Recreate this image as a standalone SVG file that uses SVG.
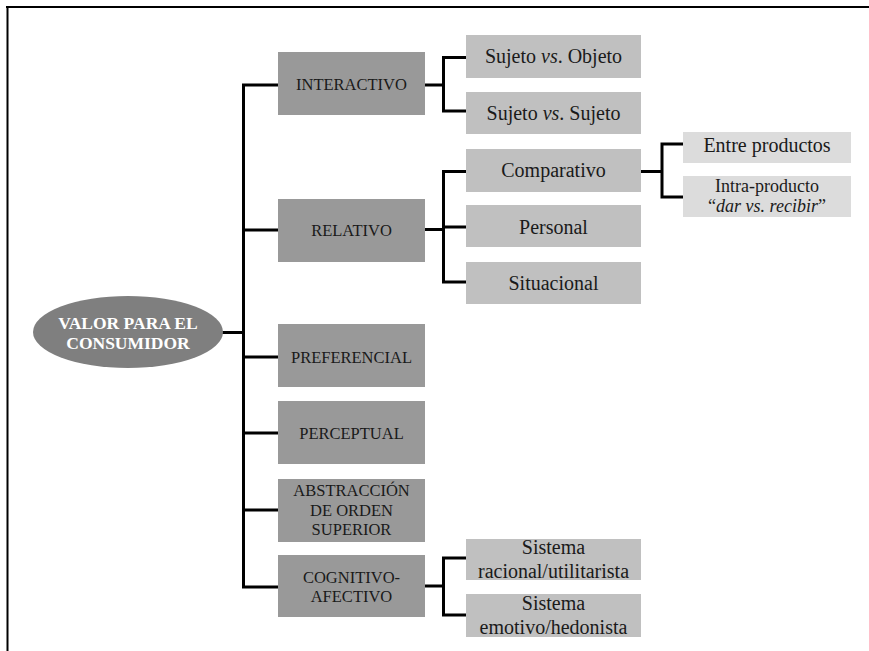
<svg xmlns="http://www.w3.org/2000/svg" width="869" height="651" viewBox="0 0 869 651">
<style>
text{font-family:'Liberation Serif','DejaVu Serif',serif;fill:#1a1a1a;text-anchor:middle}
.d{fill:#999999}
.l{fill:#c0c0c0}
.x{fill:#dcdcdc}
.up{font-size:16.5px}
.lo{font-size:20px}
.sm{font-size:18px}
.e{font-size:17.5px;font-weight:bold;fill:#ffffff}
.c{fill:none;stroke:#000;stroke-width:3}
.f{fill:none;stroke:#000;stroke-width:2}
</style>
<rect x="0" y="0" width="869" height="651" fill="#ffffff"/>
<g id="frame">
<path class="f" d="M6 7H869M7.5 6V651"/>
</g>
<g id="connectors">
<path class="c" d="M243.5 85V588M222 332.5H243.5M242 85H278M242 230H278M242 357H278M242 433H278M242 510H278M242 587H278"/>
<path class="c" d="M425 85H443.5M443.5 57.5V111M442 57.5H466M442 111H466"/>
<path class="c" d="M425 229.5H443.5M443.5 171.5V282M442 171.5H466M442 227H466M442 282H466"/>
<path class="c" d="M641 171.5H662M662 144V197M660.5 144H683M660.5 197H683"/>
<path class="c" d="M425 586H443.5M443.5 558V615M442 558H466M442 615H466"/>
</g>
<g id="root">
<ellipse cx="128" cy="332" rx="95" ry="36" fill="#7f7f7f"/>
<text class="e" x="128" y="328.5">VALOR PARA EL</text>
<text class="e" x="128" y="348.5">CONSUMIDOR</text>
</g>
<g id="interactivo">
<rect class="d" x="278" y="52" width="147" height="63"/>
<text class="up" x="351.5" y="90">INTERACTIVO</text>
</g>
<g id="relativo">
<rect class="d" x="278" y="199" width="147" height="63"/>
<text class="up" x="351.5" y="236">RELATIVO</text>
</g>
<g id="preferencial">
<rect class="d" x="278" y="324" width="147" height="63"/>
<text class="up" x="351.5" y="362.5">PREFERENCIAL</text>
</g>
<g id="perceptual">
<rect class="d" x="278" y="401" width="147" height="63"/>
<text class="up" x="351.5" y="439">PERCEPTUAL</text>
</g>
<g id="abstraccion">
<rect class="d" x="278" y="479" width="147" height="63"/>
<text class="up" x="351.5" y="496">ABSTRACCIÓN</text>
<text class="up" x="351.5" y="516">DE ORDEN</text>
<text class="up" x="351.5" y="535">SUPERIOR</text>
</g>
<g id="cognitivo">
<rect class="d" x="278" y="555" width="147" height="62"/>
<text class="up" x="351.5" y="582.5">COGNITIVO-</text>
<text class="up" x="351.5" y="602">AFECTIVO</text>
</g>
<g id="sujeto-objeto">
<rect class="l" x="466" y="35" width="175" height="43"/>
<text class="lo" x="553.5" y="63">Sujeto <tspan font-style="italic">vs</tspan>. Objeto</text>
</g>
<g id="sujeto-sujeto">
<rect class="l" x="466" y="92" width="175" height="42"/>
<text class="lo" x="553.5" y="119.5">Sujeto <tspan font-style="italic">vs</tspan>. Sujeto</text>
</g>
<g id="comparativo">
<rect class="l" x="466" y="149" width="175" height="43"/>
<text class="lo" x="553.5" y="177">Comparativo</text>
</g>
<g id="personal">
<rect class="l" x="466" y="205" width="175" height="42"/>
<text class="lo" x="553.5" y="233.5">Personal</text>
</g>
<g id="situacional">
<rect class="l" x="466" y="262" width="175" height="42"/>
<text class="lo" x="553.5" y="290">Situacional</text>
</g>
<g id="entre-productos">
<rect class="x" x="683" y="132" width="168" height="31"/>
<text class="lo" x="767" y="151.5">Entre productos</text>
</g>
<g id="intra-producto">
<rect class="x" x="683" y="176" width="168" height="41"/>
<text class="sm" x="767" y="192">Intra-producto</text>
<text class="sm" x="767" y="211.5">“<tspan font-style="italic">dar vs. recibir</tspan>”</text>
</g>
<g id="racional">
<rect class="l" x="466" y="539" width="175" height="41"/>
<text class="lo" x="553.5" y="553.5">Sistema</text>
<text class="lo" x="553.5" y="578">racional/utilitarista</text>
</g>
<g id="emotivo">
<rect class="l" x="466" y="594" width="175" height="43"/>
<text class="lo" x="553.5" y="609.5">Sistema</text>
<text class="lo" x="553.5" y="634">emotivo/hedonista</text>
</g>
</svg>
